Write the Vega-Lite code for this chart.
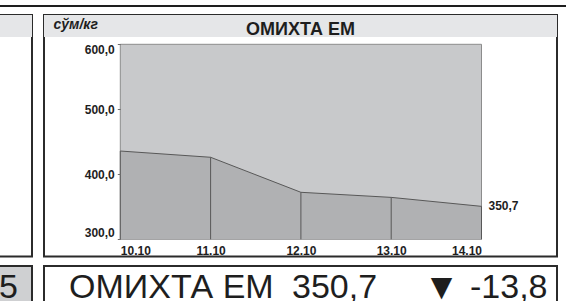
{
  "$schema": "https://vega.github.io/schema/vega-lite/v6.json",
  "padding": {"left": -16, "top": 0, "right": 0, "bottom": -8.5},
  "background": "white",
  "config": {
    "locale": {"number": {"decimal": ",", "thousands": " ", "grouping": [3], "currency": ["", ""], "minus": "-"}},
    "view": {"stroke": null},
    "font": "Liberation Sans"
  },
  "spacing": 5,
  "vconcat": [
    {
      "width": 582,
      "height": 9,
      "view": {"fill": "white", "stroke": null},
      "data": {"values": [{"separator": "top"}]},
      "mark": {"type": "rect", "color": "#1e1e1e", "opacity": 1},
      "encoding": {
        "x": {"datum": 0, "type": "quantitative", "axis": null, "scale": {"domain": [0, 1], "range": [0, 582], "nice": false, "zero": false}},
        "x2": {"datum": 1},
        "y": {"field": "separator", "type": "nominal", "axis": null, "scale": {"type": "band", "range": [5, 7], "paddingInner": 0, "paddingOuter": 0}}
      }
    },
    {
      "spacing": 7,
      "vconcat": [
        {
          "spacing": 10,
          "hconcat": [
            {
              "width": 47,
              "height": 241.5,
              "view": {"stroke": "#2b2b2b", "strokeWidth": 2, "fill": "white"},
              "data": {"values": [{"band": "header"}]},
              "mark": {"type": "bar", "color": "#e5e6e8"},
              "encoding": {
                "y": {"field": "band", "type": "nominal", "axis": null, "scale": {"range": [0, 22], "paddingInner": 0, "paddingOuter": 0}}
              }
            },
            {
              "width": 513,
              "height": 241.5,
              "view": {"stroke": "#2b2b2b", "strokeWidth": 2, "fill": "white"},
              "resolve": {"scale": {"y": "independent"}},
              "layer": [
                {
                  "data": {"values": [{"band": "header", "title": "ОМИХТА ЕМ"}]},
                  "encoding": {
                    "y": {"field": "band", "type": "nominal", "axis": null, "scale": {"range": [0, 22], "paddingInner": 0, "paddingOuter": 0}}
                  },
                  "layer": [
                    {"mark": {"type": "bar", "color": "#e5e6e8"}},
                    {
                      "mark": {"type": "text", "font": "Liberation Sans", "fontSize": 18, "fontWeight": "bold", "color": "#1e1e1e", "baseline": "middle", "align": "center", "dy": 3.5},
                      "encoding": {"text": {"field": "title", "type": "nominal"}}
                    }
                  ]
                },
                {
                  "data": {"values": [
                    {"date": "10.10", "price": 435.8},
                    {"date": "11.10", "price": 426.2},
                    {"date": "12.10", "price": 372.3},
                    {"date": "13.10", "price": 364.5},
                    {"date": "14.10", "price": 350.7}
                  ]},
                  "layer": [
                    {
                      "transform": [{"aggregate": [{"op": "count", "as": "n"}]}],
                      "mark": {"type": "rect", "fill": "#c8c9cb", "stroke": "#8c8c8c", "strokeWidth": 1},
                      "encoding": {
                        "x": {"datum": "10.10", "type": "nominal"},
                        "x2": {"datum": "14.10"},
                        "y": {"datum": 300, "type": "quantitative"},
                        "y2": {"datum": 600}
                      }
                    },
                    {
                      "mark": {"type": "area", "color": "#b0b1b3", "opacity": 1},
                      "encoding": {
                        "x": {
                          "field": "date", "type": "nominal", "sort": null,
                          "scale": {"type": "point", "domain": ["10.10", "11.10", "12.10", "13.10", "14.10"], "range": [76.3, 437.5], "padding": 0},
                          "axis": {"orient": "bottom", "offset": -17.2, "domain": false, "ticks": false, "labelAngle": 0, "labelAlign": {"condition": [{"test": "datum.value === '10.10'", "value": "left"}, {"test": "datum.value === '14.10'", "value": "right"}], "value": "center"}, "labelFont": "Liberation Sans", "labelFontWeight": "bold", "labelFontSize": 12, "labelColor": "#1e1e1e", "labelPadding": 11, "title": null, "grid": false}
                        },
                        "y": {
                          "field": "price", "type": "quantitative",
                          "scale": {"domain": [300, 600], "range": [224.3, 29.3], "zero": false, "nice": false},
                          "axis": {"orient": "left", "offset": -76.3, "zindex": 1, "values": [300, 400, 500, 600], "format": ".1f", "domain": false, "ticks": true, "tickSize": 3, "tickColor": "#6e6e6e", "labelFlush": true, "labelPadding": 3, "labelFont": "Liberation Sans", "labelFontWeight": "bold", "labelFontSize": 12, "labelColor": "#1e1e1e", "grid": false, "title": "сўм/кг", "titleAngle": 0, "titleAlign": "left", "titleBaseline": "middle", "titleX": -67.3, "titleY": 9, "titleFont": "Liberation Sans", "titleFontSize": 14, "titleFontStyle": "italic", "titleFontWeight": "bold", "titleColor": "#1e1e1e"}
                        },
                        "y2": {"datum": 300}
                      }
                    },
                    {
                      "mark": {"type": "rule", "color": "#585858", "strokeWidth": 1},
                      "encoding": {
                        "x": {"field": "date", "type": "nominal", "sort": null},
                        "y": {"field": "price", "type": "quantitative"},
                        "y2": {"datum": 300}
                      }
                    },
                    {
                      "mark": {"type": "line", "color": "#585858", "strokeWidth": 1},
                      "encoding": {
                        "x": {"field": "date", "type": "nominal", "sort": null},
                        "y": {"field": "price", "type": "quantitative"}
                      }
                    },
                    {
                      "transform": [{"filter": "datum.date == '14.10'"}],
                      "mark": {"type": "text", "align": "left", "baseline": "middle", "dx": 7, "font": "Liberation Sans", "fontSize": 12, "fontWeight": "bold", "color": "#1e1e1e"},
                      "encoding": {
                        "x": {"field": "date", "type": "nominal", "sort": null},
                        "y": {"field": "price", "type": "quantitative"},
                        "text": {"field": "price", "type": "quantitative", "format": ".1f"}
                      }
                    }
                  ]
                }
              ]
            }
          ]
        },
        {
          "spacing": 10,
          "hconcat": [
            {
              "width": 47,
              "height": 43,
              "view": {"stroke": "#2b2b2b", "strokeWidth": 2, "fill": "#cfd0d2"},
              "data": {"values": [{"rank": 5}]},
              "mark": {"type": "text", "font": "Liberation Sans", "fontSize": 34, "baseline": "middle", "align": "center", "color": "#1e1e1e"},
              "encoding": {"text": {"field": "rank", "type": "quantitative"}}
            },
            {
              "width": 513,
              "height": 43,
              "view": {"stroke": "#2b2b2b", "strokeWidth": 2, "fill": "white"},
              "data": {"values": [{"name": "ОМИХТА ЕМ", "price": 350.7, "change": -13.8}]},
              "layer": [
                {
                  "mark": {"type": "text", "font": "Liberation Sans", "fontSize": 34, "baseline": "middle", "align": "left", "dx": -231.5, "color": "#1e1e1e"},
                  "encoding": {"text": {"field": "name", "type": "nominal"}}
                },
                {
                  "mark": {"type": "text", "font": "Liberation Sans", "fontSize": 34, "baseline": "middle", "align": "left", "dx": -8.5, "color": "#1e1e1e"},
                  "encoding": {"text": {"field": "price", "type": "quantitative", "format": ".1f"}}
                },
                {
                  "mark": {"type": "text", "font": "DejaVu Sans", "fontSize": 28, "baseline": "middle", "align": "center", "dx": 141, "color": "#1e1e1e"},
                  "encoding": {"text": {"value": "▼"}}
                },
                {
                  "mark": {"type": "text", "font": "Liberation Sans", "fontSize": 34, "baseline": "middle", "align": "right", "dx": 247, "color": "#1e1e1e"},
                  "encoding": {"text": {"field": "change", "type": "quantitative", "format": ".1f"}}
                }
              ]
            }
          ]
        }
      ]
    }
  ]
}
